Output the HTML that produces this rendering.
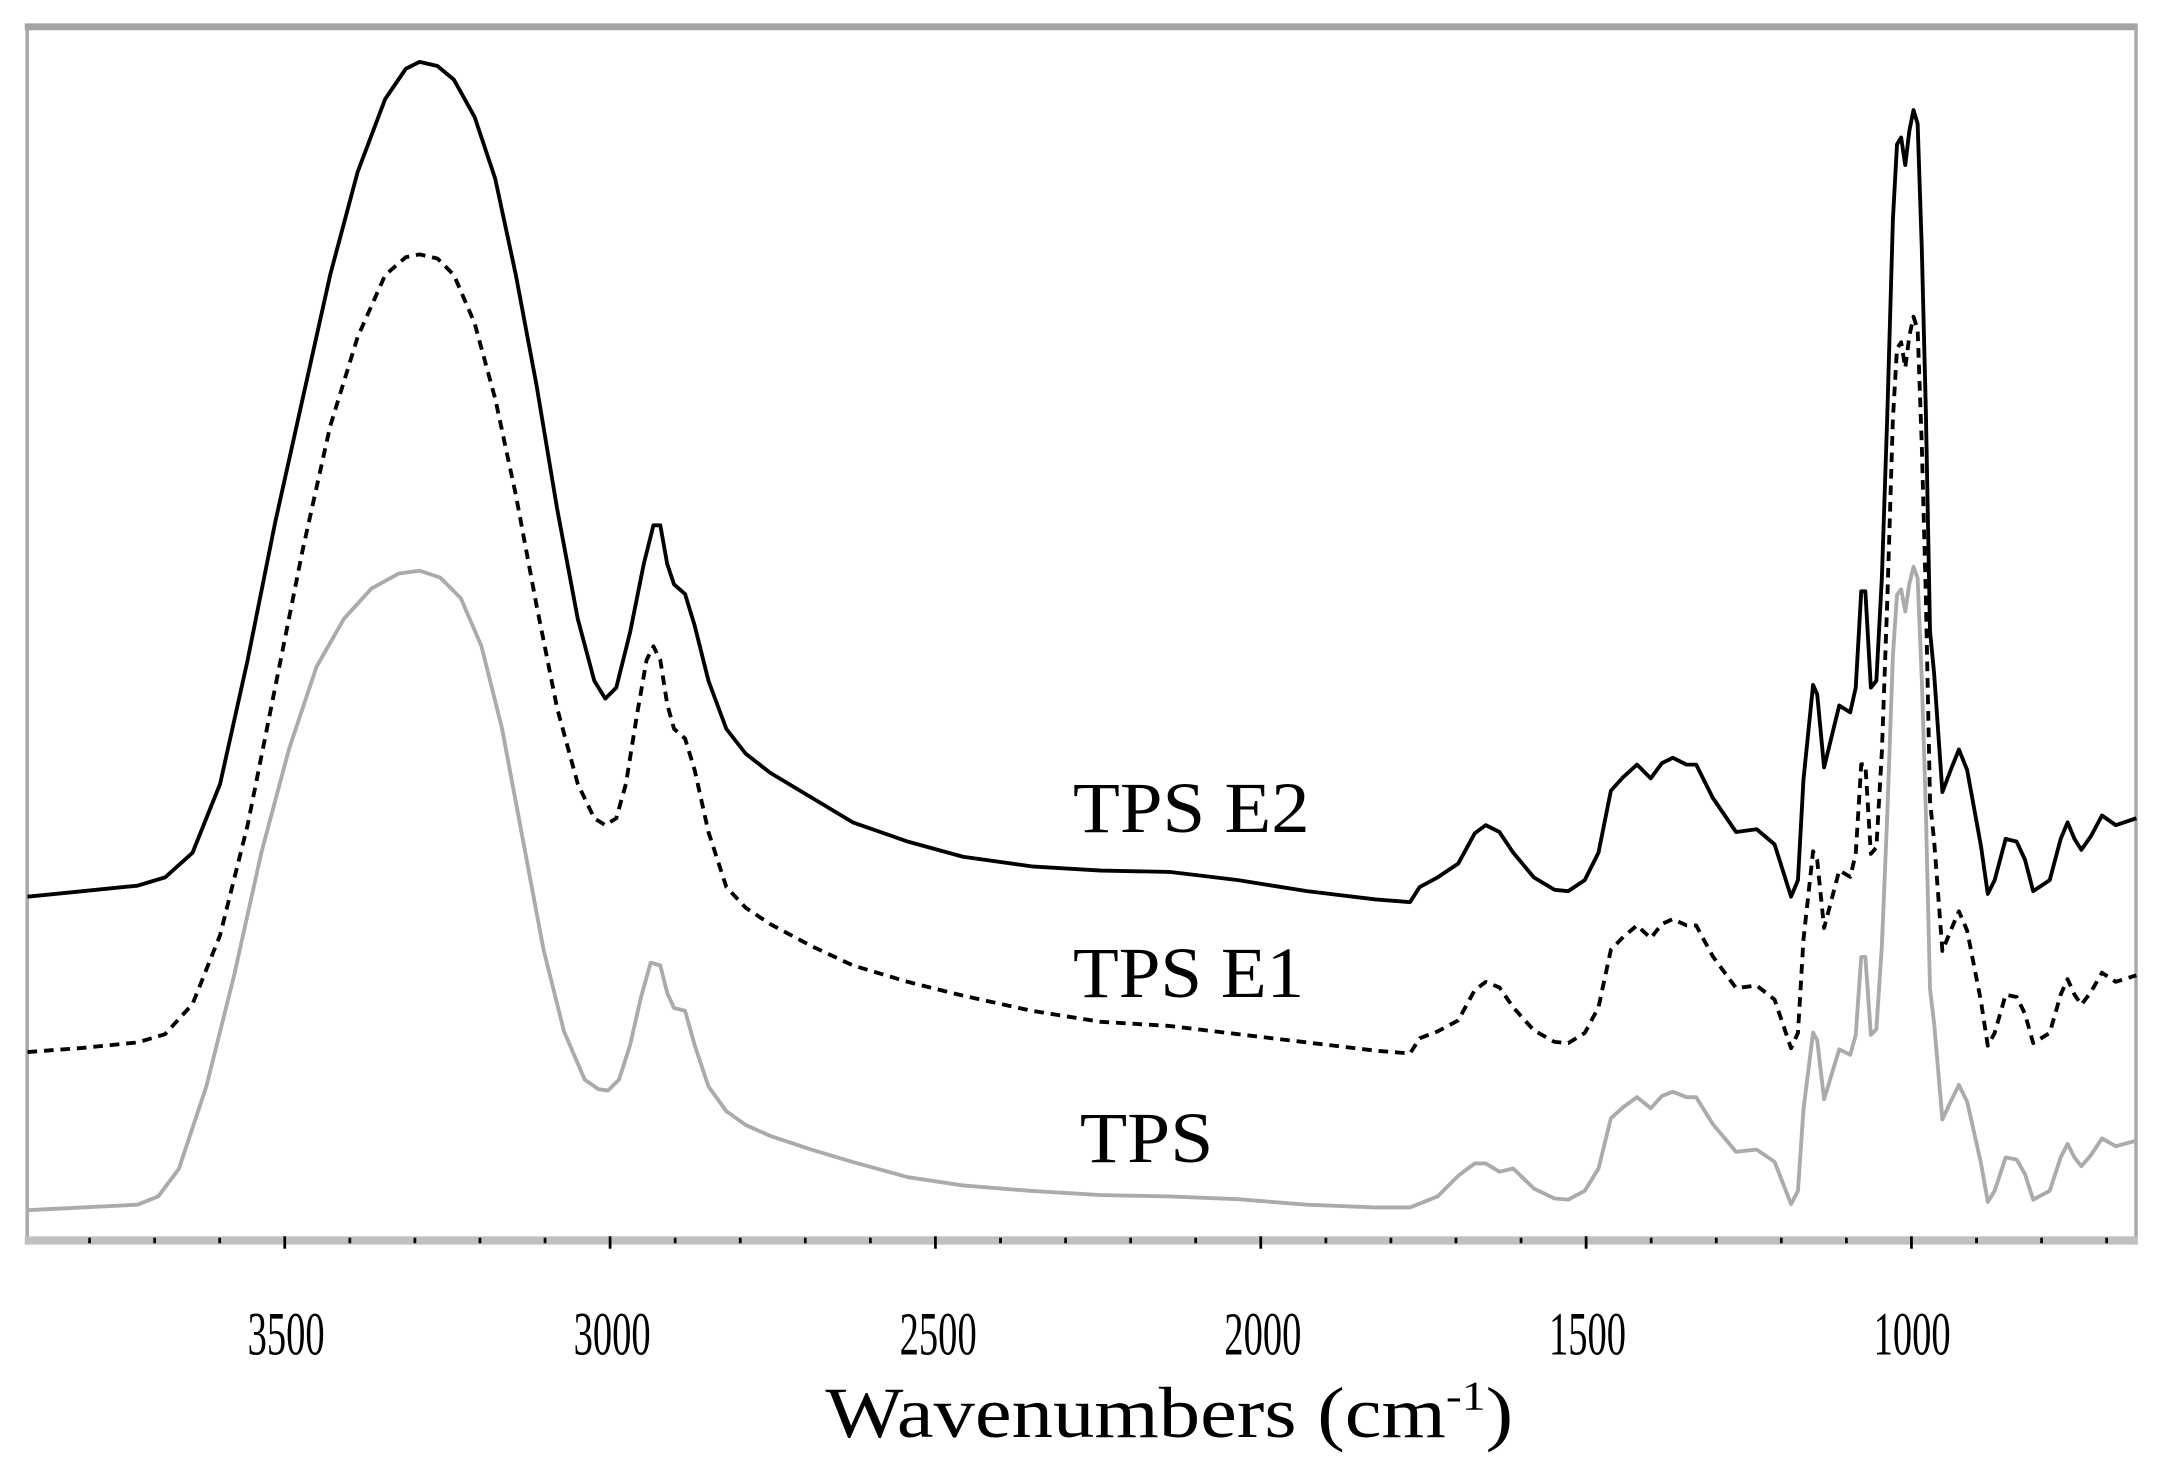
<!DOCTYPE html>
<html><head><meta charset="utf-8"><style>
html,body{margin:0;padding:0;background:#fff;}
svg{display:block;}
text{font-family:"Liberation Serif",serif;fill:#000;}
</style></head><body>
<svg width="2157" height="1477" viewBox="0 0 1568 1074" preserveAspectRatio="none" xmlns="http://www.w3.org/2000/svg">
<rect x="0" y="0" width="1568" height="1074" fill="#fff"/>
<rect x="18" y="17" width="1536" height="5" fill="#a3a3a3"/>
<rect x="18.5" y="20" width="2.5" height="885" fill="#a8a8a8"/>
<rect x="1551.5" y="20" width="2.5" height="885" fill="#a8a8a8"/>
<rect x="18" y="899" width="1536" height="6" fill="#c0c0c0"/>
<g id="ticks" stroke="#000" stroke-width="2"></g>
<path id="e2" fill="none" stroke="#000" stroke-width="2.8" stroke-linejoin="round"/>
<path id="e1" fill="none" stroke="#000" stroke-width="2.8" stroke-dasharray="7,5" stroke-linejoin="round"/>
<path id="tp" fill="none" stroke="#ababab" stroke-width="2.8" stroke-linejoin="round"/>
<text x="780" y="605" font-size="52" textLength="172" lengthAdjust="spacingAndGlyphs">TPS E2</text>
<text x="780" y="725" font-size="52" textLength="168" lengthAdjust="spacingAndGlyphs">TPS E1</text>
<text x="785" y="845" font-size="52" textLength="97" lengthAdjust="spacingAndGlyphs">TPS</text>
<g font-size="45" text-anchor="middle">
<text x="208" y="985" textLength="56" lengthAdjust="spacingAndGlyphs">3500</text>
<text x="445" y="985" textLength="56" lengthAdjust="spacingAndGlyphs">3000</text>
<text x="682" y="985" textLength="56" lengthAdjust="spacingAndGlyphs">2500</text>
<text x="918" y="985" textLength="56" lengthAdjust="spacingAndGlyphs">2000</text>
<text x="1154" y="985" textLength="56" lengthAdjust="spacingAndGlyphs">1500</text>
<text x="1390" y="985" textLength="56" lengthAdjust="spacingAndGlyphs">1000</text>
</g>
<text x="600" y="1045" font-size="52" textLength="500" lengthAdjust="spacingAndGlyphs">Wavenumbers (cm<tspan font-size="30" dy="-20">-1</tspan><tspan dy="20">)</tspan></text>
</svg>
<script>
(function(){
var g=document.getElementById('ticks'),s='';
for(var w=3800;w>=700;w-=100){var x=207+(3500-w)*0.473;var maj=(w%500==0);
s+='<line x1="'+x+'" x2="'+x+'" y1="'+(maj?899:900)+'" y2="'+(maj?908:904)+'"/>';}
g.innerHTML=s;
function P(a){return 'M'+a.map(function(p){return p[0]+','+p[1];}).join(' L');}
var e2L=[[20,652],[60,648],[100,644],[120,638],[140,620],[160,570],[180,480],[200,380],[220,290],[240,200],[260,125],[280,72],[295,50],[305,45],[318,48],[330,58],[345,85],[360,130],[375,200],[390,280],[405,370],[420,450],[432,495],[440,508],[448,500],[458,460],[468,410],[475,382],[480,382],[485,410],[490,425],[498,432],[505,455],[515,495],[528,530],[542,548],[560,562],[590,580],[620,598],[660,612],[700,623],[750,630],[800,633],[850,634],[900,640],[950,648],[1000,654],[1025,656],[1032,645],[1045,638],[1060,628],[1072,606],[1080,600],[1090,605]];
var e2R=[[1100,620],[1115,638],[1130,647],[1140,648],[1152,640],[1162,620],[1171,575],[1180,565],[1190,556],[1200,566],[1208,555],[1216,551],[1226,556],[1233,556],[1245,580],[1262,605],[1277,603],[1290,614],[1302,652],[1307,640],[1311,567],[1318,498],[1321,505],[1326,558],[1337,513],[1345,518],[1349,500],[1353,430],[1356,430],[1360,500],[1364,495],[1368,420],[1372,300],[1376,160],[1379,105],[1382,100],[1385,120],[1388,95],[1391,80],[1394,90],[1397,180],[1400,300],[1403,459],[1406,490],[1412,576],[1418,560],[1424,545],[1430,560],[1440,615],[1445,650],[1450,640],[1458,610],[1466,612],[1472,625],[1478,648],[1490,640],[1498,610],[1503,598],[1508,610],[1513,618],[1520,608],[1528,593],[1538,600],[1553,595]];
var e1L=[[20,765],[60,762],[100,758],[120,752],[140,730],[160,680],[180,600],[200,500],[220,400],[240,310],[260,245],[280,200],[295,187],[305,185],[318,188],[330,200],[345,235],[360,290],[375,360],[390,440],[405,515],[420,570],[432,595],[440,600],[448,595],[455,570],[463,520],[470,480],[475,470],[480,480],[485,512],[490,530],[498,537],[505,560],[515,605],[528,645],[542,660],[560,672],[590,688],[620,702],[660,714],[700,724],[750,735],[800,743],[850,746],[900,752],[950,758],[1000,764],[1025,766],[1032,755],[1045,750],[1060,742],[1072,720],[1080,714],[1090,718]];
var tpL=[[20,880],[60,878],[100,876],[115,870],[130,850],[150,790],[170,710],[190,620],[210,545],[230,485],[250,450],[270,428],[290,417],[305,415],[320,420],[335,435],[350,470],[365,530],[380,610],[395,690],[410,750],[425,785],[435,792],[442,793],[450,785],[458,760],[466,725],[473,700],[480,702],[485,722],[490,733],[498,735],[505,760],[515,790],[528,808],[542,818],[560,826],[590,836],[620,845],[660,856],[700,862],[750,866],[800,869],[850,870],[900,872],[950,876],[1000,878],[1025,878],[1045,870],[1060,855],[1072,846],[1080,846],[1090,852]];
var e1R=e2R.map(function(p){return [p[0],Math.round((765+0.93*(p[1]-655))*10)/10];});
var tpR=e2R.map(function(p){return [p[0],Math.round((878+0.81*(p[1]-655))*10)/10];});
document.getElementById('e2').setAttribute('d',P(e2L.concat(e2R)));
document.getElementById('e1').setAttribute('d',P(e1L.concat(e1R)));
document.getElementById('tp').setAttribute('d',P(tpL.concat(tpR)));
})();
</script>
</body></html>
